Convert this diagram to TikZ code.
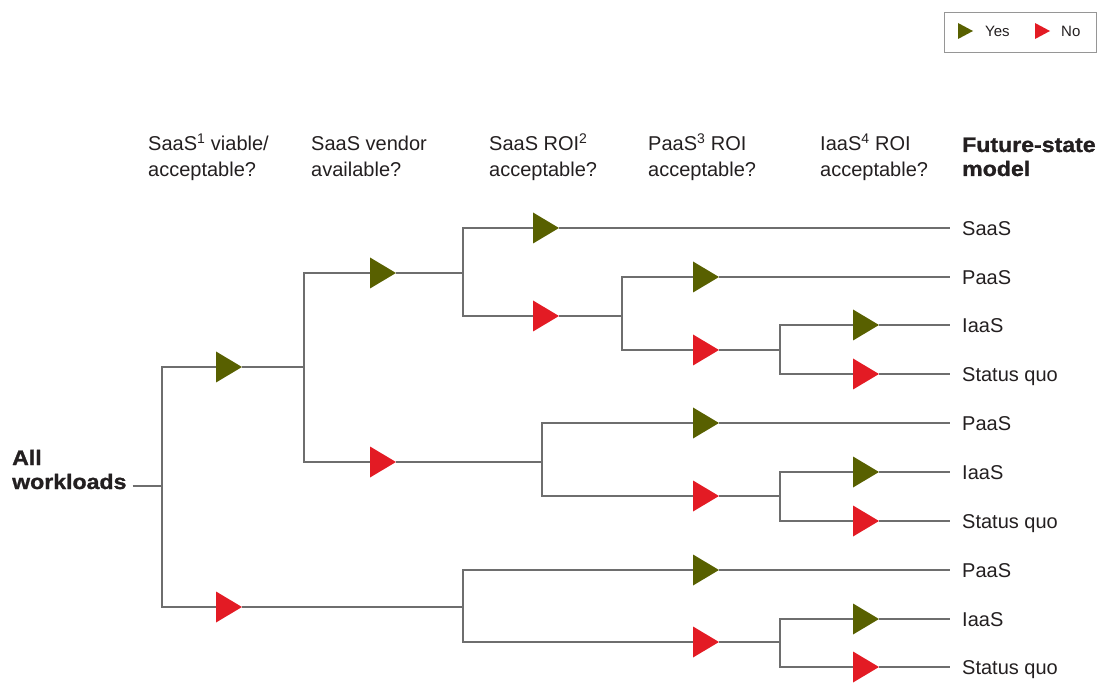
\documentclass[tikz,border=0pt]{standalone}
\usepackage{fontspec}
\setmainfont{Liberation Sans}
\newfontfamily\heavyfont[FakeStretch=1.1,FakeBold=1.2]{Liberation Sans}

\definecolor{yesgreen}{RGB}{88,96,0}
\definecolor{nored}{RGB}{227,27,36}
\definecolor{linegray}{RGB}{110,110,110}
\definecolor{boxgray}{RGB}{150,150,150}
\definecolor{textblack}{RGB}{35,31,32}

\tikzset{
  tri/.style={rectangle, anchor=west, minimum width=26pt, minimum height=31pt,
              inner sep=0pt, outer sep=0pt,
              path picture={\fill[#1] (path picture bounding box.south west)
                 -- (path picture bounding box.north west)
                 -- (path picture bounding box.east) -- cycle;}},
  yestri/.style={tri=yesgreen},
  notri/.style={tri=nored},
  branch/.style={draw=linegray, line width=1.3pt},
  leaf/.style={anchor=west, inner xsep=12pt, inner ysep=0pt, text height=14.4pt,
               text depth=0pt, text=textblack, font=\fontsize{20}{26}\selectfont},
  head/.style={anchor=base west, align=left, inner sep=0pt, text=textblack,
               font=\fontsize{20}{26}\selectfont},
  heavy/.style={anchor=base west, align=left, inner xsep=0pt, inner ysep=0pt, text=textblack,
                font=\heavyfont\bfseries\fontsize{21}{24}\selectfont},
  keylab/.style={anchor=west, inner sep=0pt, text height=10.8pt, text depth=0pt,
                 text=textblack, font=\fontsize{15}{18}\selectfont}
}

\begin{document}
\begin{tikzpicture}[x=1pt,y=-1pt]
        \useasboundingbox (0,0) rectangle (1111,684);

        % legend
        \node[draw=boxgray, line width=0.9pt, minimum width=152pt, minimum height=40pt,
              inner sep=0pt] (legend) at (1020,32) {};
        \node[yestri, minimum width=15pt, minimum height=16pt] (yeskey) at (958,31) {};
        \node[keylab] (yeslab) at (985,31) {Yes};
        \node[notri, minimum width=15pt, minimum height=16pt] (nokey) at (1035,31) {};
        \node[keylab] (nolab) at (1061,31) {No};

        % column heads (base = last line)
        \node[head] (h1) at (148,177) {SaaS\textsuperscript{1} viable/\\acceptable?};
        \node[head] (h2) at (311,177) {SaaS vendor\\available?};
        \node[head] (h3) at (489,177) {SaaS ROI\textsuperscript{2}\\acceptable?};
        \node[head] (h4) at (648,177) {PaaS\textsuperscript{3} ROI\\acceptable?};
        \node[head] (h5) at (820,177) {IaaS\textsuperscript{4} ROI\\acceptable?};
        \node[heavy] (h6) at (962,176) {Future-state\\model};

        % root
        \node[heavy] (all) at (12,489) {All\\workloads};

        % split points
        \coordinate (s0) at (162,486);
        \coordinate (s1) at (304,367);
        \coordinate (s2) at (463,273);
        \coordinate (s3) at (622,316);
        \coordinate (s4) at (780,350);
        \coordinate (s5) at (542,462);
        \coordinate (s6) at (780,496);
        \coordinate (s7) at (463,607);
        \coordinate (s8) at (780,642);
        \coordinate (xr) at (950,0);

        % yes / no triangles
        \node[yestri] (y1) at (216,367) {};
        \node[notri]  (n1) at (216,607) {};
        \node[yestri] (y2) at (370,273) {};
        \node[notri]  (n2) at (370,462) {};
        \node[yestri] (y3) at (533,228) {};
        \node[notri]  (n3) at (533,316) {};
        \node[yestri] (y4) at (693,277) {};
        \node[notri]  (n4) at (693,350) {};
        \node[yestri] (y5) at (853,325) {};
        \node[notri]  (n5) at (853,374) {};
        \node[yestri] (y6) at (693,423) {};
        \node[notri]  (n6) at (693,496) {};
        \node[yestri] (y7) at (853,472) {};
        \node[notri]  (n7) at (853,521) {};
        \node[yestri] (y8) at (693,570) {};
        \node[notri]  (n8) at (693,642) {};
        \node[yestri] (y9) at (853,619) {};
        \node[notri]  (n9) at (853,667) {};

        % branches
        \draw[branch] (s0 -| all.east) ++(6,0) -- (s0);
        \draw[branch] (s0) |- (y1) (s0) |- (n1);
        \draw[branch] (y1) -- (s1) (n1) -- (s7);
        \draw[branch] (s1) |- (y2) (s1) |- (n2);
        \draw[branch] (y2) -- (s2) (n2) -- (s5);
        \draw[branch] (s2) |- (y3) (s2) |- (n3);
        \draw[branch] (n3) -- (s3);
        \draw[branch] (s3) |- (y4) (s3) |- (n4);
        \draw[branch] (n4) -- (s4);
        \draw[branch] (s4) |- (y5) (s4) |- (n5);
        \draw[branch] (s5) |- (y6) (s5) |- (n6);
        \draw[branch] (n6) -- (s6);
        \draw[branch] (s6) |- (y7) (s6) |- (n7);
        \draw[branch] (s7) |- (y8) (s7) |- (n8);
        \draw[branch] (n8) -- (s8);
        \draw[branch] (s8) |- (y9) (s8) |- (n9);

        % future-state models
        \foreach \t/\lab [count=\i] in {y3/SaaS, y4/PaaS, y5/IaaS, n5/Status quo,
                                        y6/PaaS, y7/IaaS, n7/Status quo,
                                        y8/PaaS, y9/IaaS, n9/Status quo} {
                \node[leaf] (leaf\i) at (xr |- \t) {\lab};
                \draw[branch] (\t) -- (leaf\i);
        }
\end{tikzpicture}
\end{document}
